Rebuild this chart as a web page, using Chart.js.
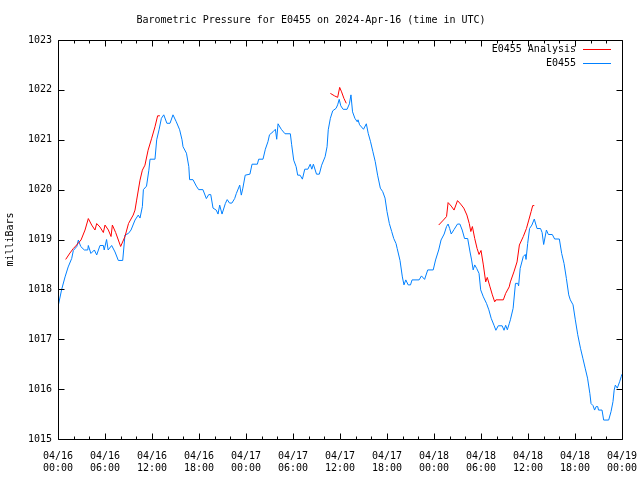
<!DOCTYPE html>
<html>
<head>
<meta charset="utf-8">
<title>Barometric Pressure E0455</title>
<script src="https://cdn.jsdelivr.net/npm/chart.js@4.4.1/dist/chart.umd.min.js"></script>
<style>
  html, body { margin: 0; padding: 0; background: #fff; }
  #wrap { width: 640px; height: 480px; }
</style>
</head>
<body>
<div id="wrap"><canvas id="myChart" width="640" height="480"></canvas></div>
<script>
// hours since 04/16 00:00 UTC, pressure in mb
const blueHours = [0, 0.47, 0.9, 1.3, 1.75, 1.96, 2.4, 2.6, 2.9, 3.36, 3.8, 3.87, 4.2, 4.64, 4.94, 5.36, 5.79, 5.9, 6.2, 6.4, 6.85, 7.28, 7.7, 8.26, 8.55, 8.98, 9.32, 9.83, 10.25, 10.47, 10.77, 10.9, 11.3, 11.6, 11.75, 12.38, 12.6, 12.9, 13.2, 13.5, 13.9, 14.3, 14.68, 15.1, 15.53, 15.83, 15.96, 16.4, 16.7, 16.8, 17.23, 17.66, 17.96, 18.5, 18.94, 19.24, 19.5, 19.79, 20.2, 20.43, 20.64, 20.94, 21.36, 21.6, 21.9, 22.2, 22.55, 22.76, 23.2, 23.4, 23.6, 23.9, 24.5, 24.77, 25.45, 25.62, 26.17, 26.47, 26.8, 27.0, 27.45, 27.75, 27.92, 28.09, 28.5, 28.98, 29.66, 29.83, 30.09, 30.4, 30.6, 30.9, 31.2, 31.5, 31.9, 32.2, 32.4, 32.6, 33.0, 33.36, 33.66, 34.1, 34.35, 34.5, 34.77, 35.07, 35.5, 35.7, 35.9, 36.1, 36.4, 36.9, 37.2, 37.4, 37.6, 37.9, 38.2, 38.3, 38.5, 39.0, 39.36, 39.6, 39.9, 40.2, 40.5, 40.8, 41.15, 41.45, 41.75, 42.0, 42.3, 42.6, 42.86, 43.15, 43.3, 43.66, 43.96, 44.17, 44.4, 44.7, 45.0, 45.2, 46.1, 46.4, 46.8, 47.2, 47.9, 48.2, 48.6, 48.9, 49.3, 49.6, 49.8, 50.0, 50.2, 50.56, 51.0, 51.3, 51.6, 51.9, 52.3, 52.6, 52.8, 53.0, 53.2, 53.45, 53.75, 53.96, 54.3, 54.7, 55.0, 55.3, 55.66, 55.9, 56.2, 56.7, 56.94, 57.15, 57.36, 57.6, 57.75, 58.1, 58.4, 58.7, 58.8, 59.0, 59.4, 59.65, 59.75, 59.96, 60.2, 60.5, 60.8, 61.15, 61.6, 61.8, 62.0, 62.35, 62.6, 63.1, 63.4, 64.0, 64.3, 64.6, 64.9, 65.2, 65.4, 65.75, 66.04, 66.35, 66.7, 67.0, 67.3, 67.6, 67.9, 68.05, 68.3, 68.5, 68.7, 68.9, 69.0, 69.45, 69.66, 70.3, 70.6, 70.85, 71.0, 71.15, 71.4, 71.7, 71.9, 72.0];
const bluePressure = [1017.65, 1018.0, 1018.25, 1018.45, 1018.62, 1018.78, 1018.86, 1018.99, 1018.86, 1018.79, 1018.79, 1018.88, 1018.72, 1018.79, 1018.69, 1018.88, 1018.88, 1018.79, 1019.0, 1018.79, 1018.88, 1018.75, 1018.58, 1018.58, 1019.09, 1019.12, 1019.19, 1019.39, 1019.49, 1019.43, 1019.66, 1020.0, 1020.07, 1020.39, 1020.61, 1020.61, 1021.0, 1021.2, 1021.43, 1021.5, 1021.33, 1021.33, 1021.5, 1021.36, 1021.2, 1021.0, 1020.86, 1020.73, 1020.46, 1020.2, 1020.2, 1020.07, 1020.0, 1020.0, 1019.82, 1019.9, 1019.9, 1019.63, 1019.59, 1019.51, 1019.69, 1019.51, 1019.72, 1019.8, 1019.73, 1019.73, 1019.82, 1019.92, 1020.09, 1019.89, 1020.03, 1020.29, 1020.31, 1020.51, 1020.51, 1020.61, 1020.61, 1020.81, 1020.96, 1021.1, 1021.16, 1021.21, 1021.01, 1021.32, 1021.21, 1021.12, 1021.12, 1020.9, 1020.59, 1020.46, 1020.29, 1020.29, 1020.21, 1020.41, 1020.41, 1020.51, 1020.41, 1020.51, 1020.31, 1020.31, 1020.49, 1020.66, 1020.86, 1021.2, 1021.43, 1021.58, 1021.63, 1021.7, 1021.81, 1021.68, 1021.61, 1021.61, 1021.72, 1021.9, 1021.56, 1021.43, 1021.36, 1021.4, 1021.3, 1021.21, 1021.32, 1021.13, 1020.96, 1020.76, 1020.56, 1020.29, 1020.03, 1019.96, 1019.83, 1019.56, 1019.32, 1019.16, 1019.02, 1018.92, 1018.82, 1018.58, 1018.25, 1018.09, 1018.19, 1018.09, 1018.09, 1018.19, 1018.19, 1018.27, 1018.2, 1018.39, 1018.39, 1018.59, 1018.79, 1018.99, 1019.11, 1019.26, 1019.31, 1019.22, 1019.11, 1019.2, 1019.31, 1019.31, 1019.19, 1019.02, 1019.02, 1018.75, 1018.59, 1018.39, 1018.49, 1018.42, 1018.32, 1017.99, 1017.85, 1017.72, 1017.59, 1017.42, 1017.28, 1017.18, 1017.27, 1017.27, 1017.18, 1017.28, 1017.19, 1017.31, 1017.39, 1017.62, 1018.12, 1018.12, 1018.07, 1018.42, 1018.66, 1018.7, 1018.6, 1018.92, 1019.22, 1019.29, 1019.41, 1019.22, 1019.22, 1019.14, 1018.9, 1019.19, 1019.1, 1019.1, 1019.01, 1019.01, 1018.72, 1018.52, 1018.22, 1017.89, 1017.79, 1017.69, 1017.39, 1017.09, 1016.82, 1016.62, 1016.42, 1016.22, 1015.91, 1015.71, 1015.67, 1015.58, 1015.65, 1015.65, 1015.58, 1015.58, 1015.38, 1015.38, 1015.55, 1015.75, 1015.98, 1016.08, 1016.02, 1016.15, 1016.25, 1016.3];

// analysis: three pieces, null breaks the line
const redHours = [0.98, 1.53, 1.96, 2.38, 2.94, 3.45, 3.87, 4.3, 4.72, 4.94, 5.36, 5.79, 6.0, 6.43, 6.77, 6.94, 7.36, 8.0, 8.55, 9.0, 9.6, 9.83, 10.04, 10.47, 10.77, 11.1, 11.5, 11.96, 12.38, 12.72, 13.0,
  24,
  34.77, 35.3, 35.7, 35.96, 36.2, 36.5, 36.8,
  42,
  48.6, 49.2, 49.6, 49.8, 50.2, 50.56, 51.0, 51.4, 51.8, 52.2, 52.5, 52.7, 52.9, 53.2, 53.5, 53.75, 54.0, 54.3, 54.6, 54.8, 55.15, 55.45, 55.75, 55.9, 56.85, 57.15, 57.6, 57.75, 58.2, 58.6, 58.9, 59.4, 59.8, 60.1, 60.4, 60.6, 60.8];
const redPressure = [1018.6, 1018.73, 1018.82, 1018.89, 1018.99, 1019.19, 1019.42, 1019.29, 1019.19, 1019.32, 1019.25, 1019.14, 1019.29, 1019.19, 1019.06, 1019.29, 1019.14, 1018.86, 1019.06, 1019.32, 1019.49, 1019.59, 1019.79, 1020.19, 1020.39, 1020.49, 1020.79, 1021.03, 1021.26, 1021.48, 1021.48,
  null,
  1021.93, 1021.88, 1021.85, 1022.05, 1021.96, 1021.83, 1021.73,
  null,
  1019.29, 1019.39, 1019.46, 1019.74, 1019.67, 1019.59, 1019.78, 1019.71, 1019.63, 1019.49, 1019.32, 1019.16, 1019.26, 1019.02, 1018.82, 1018.7, 1018.78, 1018.49, 1018.15, 1018.24, 1018.05, 1017.89, 1017.75, 1017.79, 1017.79, 1017.92, 1018.05, 1018.15, 1018.35, 1018.55, 1018.89, 1019.06, 1019.22, 1019.39, 1019.56, 1019.68, 1019.68];

const tickDates = ["04/16", "04/16", "04/16", "04/16", "04/17", "04/17", "04/17", "04/17", "04/18", "04/18", "04/18", "04/18", "04/19"];
const tickTimes = ["00:00", "06:00", "12:00", "18:00", "00:00", "06:00", "12:00", "18:00", "00:00", "06:00", "12:00", "18:00", "00:00"];

const FONT = "'DejaVu Sans Mono', 'Liberation Mono', monospace";

function toPoints(xs, ys) {
  return xs.map((x, i) => ({ x: x, y: ys[i] }));
}

// border, inward ticks on all four sides, and gnuplot style key
const gnuFrame = {
  id: "gnuFrame",
  afterDraw(chart) {
    const ctx = chart.ctx;
    const a = chart.chartArea;
    const xs = chart.scales.x, ys = chart.scales.y;
    const L = Math.round(a.left) + 0.5, R = Math.round(a.right) + 0.5;
    const T = Math.round(a.top) + 0.5, B = Math.round(a.bottom) + 0.5;
    ctx.save();
    ctx.strokeStyle = "#000";
    ctx.lineWidth = 1;
    ctx.beginPath();
    ctx.rect(L, T, R - L, B - T);
    for (let h = 0; h <= 72; h += 2) {
      const px = Math.round(xs.getPixelForValue(h)) + 0.5;
      const len = h % 6 === 0 ? 6 : 3;
      ctx.moveTo(px, B); ctx.lineTo(px, B - len);
      ctx.moveTo(px, T); ctx.lineTo(px, T + len);
    }
    for (let p = 1015; p <= 1023; p++) {
      const py = Math.round(ys.getPixelForValue(p)) + 0.5;
      ctx.moveTo(L, py); ctx.lineTo(L + 6, py);
      ctx.moveTo(R, py); ctx.lineTo(R - 6, py);
    }
    ctx.stroke();

    ctx.font = "10px " + FONT;
    ctx.fillStyle = "#000";
    ctx.textAlign = "right";
    ctx.textBaseline = "middle";
    chart.data.datasets.forEach((ds, i) => {
      const y = 49 + i * 14;
      ctx.fillText(ds.label, 576, y);
      ctx.strokeStyle = ds.borderColor;
      ctx.beginPath();
      ctx.moveTo(583, y + 0.5);
      ctx.lineTo(611, y + 0.5);
      ctx.stroke();
    });
    ctx.restore();
  }
};

var ctx = document.getElementById("myChart");
var chart = new Chart(ctx, {
  type: "line",
  data: {
    datasets: [
      {
        label: "E0455 Analysis",
        data: toPoints(redHours, redPressure),
        borderColor: "#ff0000",
        borderWidth: 1,
        pointRadius: 0,
        tension: 0,
        spanGaps: false
      },
      {
        label: "E0455",
        data: toPoints(blueHours, bluePressure),
        borderColor: "#0080ff",
        borderWidth: 1,
        pointRadius: 0,
        tension: 0
      }
    ]
  },
  options: {
    responsive: false,
    animation: false,
    devicePixelRatio: 1,
    layout: { padding: { left: 0, right: 18, top: 0, bottom: 0 } },
    plugins: {
      legend: { display: false },
      tooltip: { enabled: false },
      title: {
        display: true,
        text: "Barometric Pressure for E0455 on 2024-Apr-16 (time in UTC)",
        color: "#000",
        font: { family: FONT, size: 10, weight: "normal" },
        padding: { top: 14, bottom: 14 }
      }
    },
    scales: {
      x: {
        type: "linear",
        min: 0,
        max: 72,
        grid: { display: false },
        border: { display: false },
        ticks: {
          stepSize: 6,
          autoSkip: false,
          maxRotation: 0,
          padding: 3,
          color: "#000",
          font: { family: FONT, size: 10 },
          callback: function (value) {
            const i = Math.round(value / 6);
            return [tickDates[i], tickTimes[i]];
          }
        },
        afterFit: function (scale) {
          scale.height = 41;
          scale.paddingLeft = 0;
          scale.paddingRight = 0;
        }
      },
      y: {
        min: 1015,
        max: 1023,
        grid: { display: false, drawTicks: false },
        border: { display: false },
        ticks: {
          stepSize: 1,
          padding: 6,
          color: "#000",
          font: { family: FONT, size: 10 },
          callback: function (value) { return String(value); }
        },
        title: {
          display: true,
          text: "milliBars",
          color: "#000",
          font: { family: FONT, size: 10 },
          padding: { top: 4, bottom: 0 }
        },
        afterFit: function (scale) { scale.width = 58; }
      }
    }
  },
  plugins: [gnuFrame]
});
</script>
</body>
</html>
